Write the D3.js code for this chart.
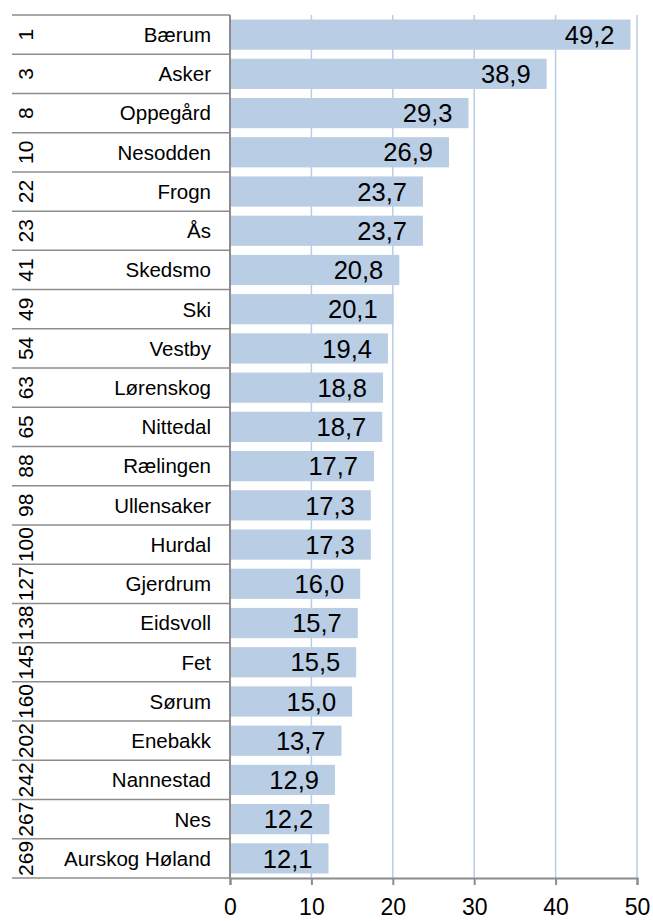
<!DOCTYPE html>
<html><head><meta charset="utf-8">
<script src="https://cdn.jsdelivr.net/npm/d3@7"></script>
<style>html,body{margin:0;padding:0;background:#fff;}</style>
</head><body>
<svg id="c" width="653" height="921"></svg>
<script>
const ranks = [1,3,8,10,22,23,41,49,54,63,65,88,98,100,127,138,145,160,202,242,267,269];
const names = ["Bærum","Asker","Oppegård","Nesodden","Frogn","Ås","Skedsmo","Ski","Vestby","Lørenskog","Nittedal","Rælingen","Ullensaker","Hurdal","Gjerdrum","Eidsvoll","Fet","Sørum","Enebakk","Nannestad","Nes","Aurskog Høland"];
const values = [49.2,38.9,29.3,26.9,23.7,23.7,20.8,20.1,19.4,18.8,18.7,17.7,17.3,17.3,16.0,15.7,15.5,15.0,13.7,12.9,12.2,12.1];
const xTicks = [0,10,20,30,40,50];

(function(){
const svg = d3.select("#c");
const font = "'Liberation Sans', Arial, sans-serif";
const L = 230, R = 637, T = 15, B = 878, labelLeft = 12;
const x = d3.scaleLinear().domain([0,50]).range([L,R]);
const y = d3.scaleBand().domain(d3.range(names.length)).range([T,B]).paddingInner(0.23).paddingOuter(0.115);
const step = y.step();
const yb = i => T + i*step;

// gridlines
svg.append("g").selectAll("line").data(xTicks.slice(1)).join("line")
  .attr("x1", d=>x(d)).attr("x2", d=>x(d)).attr("y1", T).attr("y2", B)
  .attr("stroke", "#b9cde5").attr("stroke-width", 1.5);

// bars
svg.append("g").selectAll("rect").data(values).join("rect")
  .attr("x", L).attr("y", (d,i)=>y(i)).attr("width", d=>x(d)-L).attr("height", y.bandwidth())
  .attr("fill", "#b9cde5");

// value labels
svg.append("g").selectAll("text").data(values).join("text")
  .attr("x", d=>x(d)-16).attr("y", (d,i)=>y(i)+y.bandwidth()/2)
  .attr("dy","0.36em").attr("text-anchor","end")
  .attr("font-family", font).attr("font-size", 25.5).attr("fill","#000")
  .text(d=>d3.format(".1f")(d).replace(".", ","));

// category separators
const seps = d3.range(names.length+1);
svg.append("g").selectAll("line").data(seps).join("line")
  .attr("x1", labelLeft).attr("x2", L).attr("y1", d=>yb(d)).attr("y2", d=>yb(d))
  .attr("stroke", "#8c8c8c").attr("stroke-width", 1.5);

// names
svg.append("g").selectAll("text").data(names).join("text")
  .attr("x", 211).attr("y", (d,i)=>yb(i)+step/2).attr("dy","0.36em")
  .attr("text-anchor","end").attr("font-family", font).attr("font-size", 20.5).attr("fill","#000")
  .text(d=>d);

// ranks rotated
svg.append("g").selectAll("text").data(ranks).join("text")
  .attr("transform", (d,i)=>`translate(25.5,${yb(i)+step/2}) rotate(-90)`)
  .attr("dy","0.36em").attr("text-anchor","middle")
  .attr("font-family", font).attr("font-size", 21).attr("fill","#000")
  .text(d=>d);

// y axis line
svg.append("line").attr("x1",L).attr("x2",L).attr("y1",T).attr("y2",B)
  .attr("stroke","#8c8c8c").attr("stroke-width",2);

// x axis
const xAxis = svg.append("g").attr("transform",`translate(0,${B})`)
  .call(d3.axisBottom(x).tickValues(xTicks).tickSize(7).tickPadding(14).tickFormat(d3.format("d")));
xAxis.select(".domain").attr("stroke","#8c8c8c").attr("stroke-width",2);
xAxis.selectAll(".tick line").attr("stroke","#8c8c8c").attr("stroke-width",2);
xAxis.selectAll("text").attr("font-family",font).attr("font-size",23).attr("fill","#000");
})();
</script>
</body></html>
